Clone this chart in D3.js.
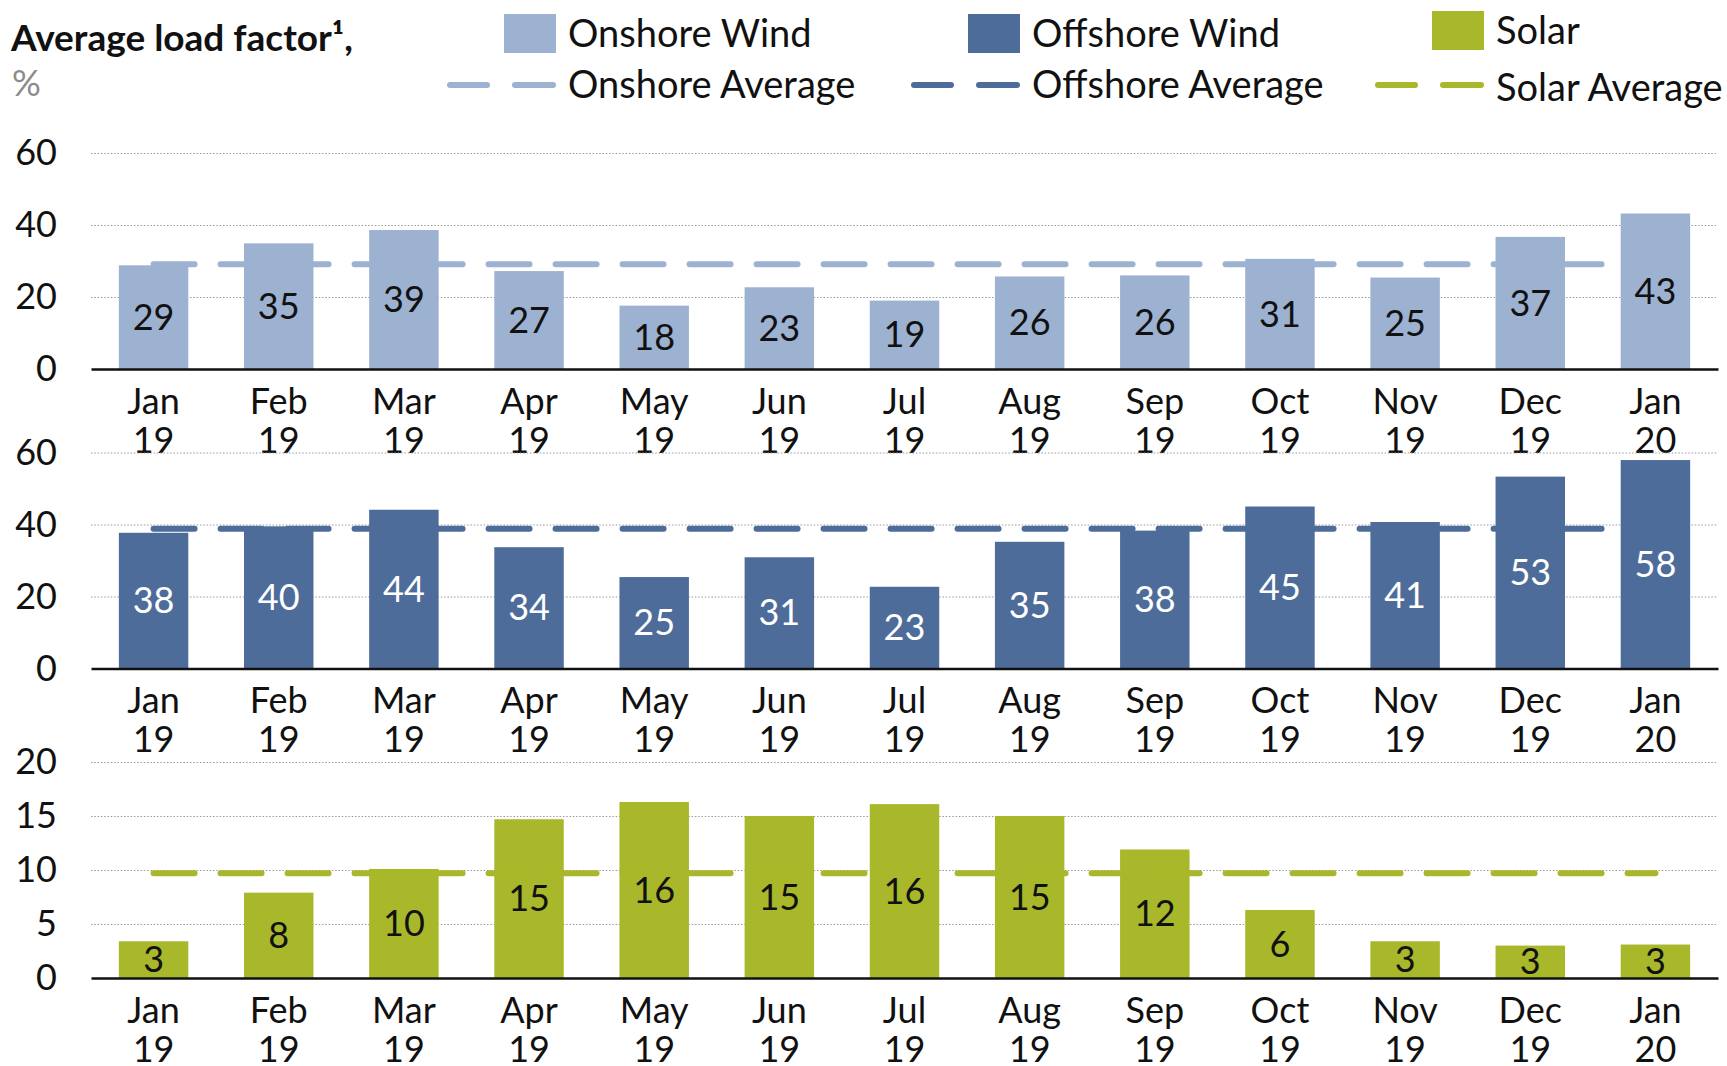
<!DOCTYPE html>
<html>
<head>
<meta charset="utf-8">
<script src="https://cdn.jsdelivr.net/npm/d3@7"></script>
<style>
  body { margin: 0; background: #fff; }
  svg { display: block; font-family: Lato, "Open Sans", sans-serif; }
</style>
</head>
<body>
<svg id="chart" width="1727" height="1066"></svg>
<script>
// data
const categories = ["Jan 19", "Feb 19", "Mar 19", "Apr 19", "May 19", "Jun 19", "Jul 19",
  "Aug 19", "Sep 19", "Oct 19", "Nov 19", "Dec 19", "Jan 20"];
const onshore = [28.8, 34.9, 38.6, 27.2, 17.6, 22.7, 19.0, 25.7, 26.0, 30.6, 25.4, 36.7, 43.2];
const offshore = [37.7, 39.5, 44.1, 33.7, 25.4, 30.9, 22.7, 35.2, 38.3, 45.0, 40.7, 53.3, 57.9];
const solar = [3.4, 7.9, 10.1, 14.7, 16.3, 15.0, 16.1, 15.0, 11.9, 6.3, 3.4, 3.0, 3.1];
const averages = [29.1, 38.8, 9.7];
const windTicks = [0, 20, 40, 60];
const solarTicks = [0, 5, 10, 15, 20];

const svg = d3.select('#chart');
const left = 91, right = 1718;
const font = 'Lato';

const x = d3.scaleBand()
  .domain(categories)
  .range([left, right])
  .paddingInner(0.445)
  .paddingOuter(0.2225);

const panels = [
  { values: onshore, avg: averages[0], ticks: windTicks, max: 60, top: 153, bottom: 369,
    color: '#9db1d1', labelColor: '#111' },
  { values: offshore, avg: averages[1], ticks: windTicks, max: 60, top: 452.5, bottom: 668.5,
    color: '#4e6c9a', labelColor: '#fff' },
  { values: solar, avg: averages[2], ticks: solarTicks, max: 20, top: 762, bottom: 978,
    color: '#a8b82a', labelColor: '#111' }
];

panels.forEach(function(p) {
  const y = d3.scaleLinear().domain([0, p.max]).range([p.bottom, p.top]);
  const g = svg.append('g');

  // dotted gridlines
  g.append('g')
    .attr('transform', `translate(${left},0)`)
    .call(d3.axisLeft(y).tickValues(p.ticks.filter(t => t > 0)).tickSize(-(right - left)).tickFormat(''))
    .call(s => s.select('.domain').remove())
    .call(s => s.selectAll('line').attr('stroke', '#9a9a9a').attr('stroke-width', 1.2).attr('stroke-dasharray', '1.5,1.8'));

  // y tick labels
  g.append('g')
    .attr('transform', 'translate(57,0)')
    .call(d3.axisLeft(y).tickValues(p.ticks).tickSize(0).tickPadding(0))
    .attr('font-family', font)
    .attr('font-size', 36)
    .call(s => s.select('.domain').remove())
    .call(s => s.selectAll('text').attr('fill', '#111'));

  // bars
  g.selectAll('rect.bar')
    .data(p.values)
    .join('rect')
    .attr('class', 'bar')
    .attr('x', (d, i) => x(categories[i]))
    .attr('width', x.bandwidth())
    .attr('y', d => y(d))
    .attr('height', d => y(0) - y(d))
    .attr('fill', p.color);

  // average dashed line
  g.append('line')
    .attr('x1', x(categories[0]) + x.bandwidth() / 2)
    .attr('x2', x(categories[categories.length - 1]) + x.bandwidth() / 2)
    .attr('y1', y(p.avg))
    .attr('y2', y(p.avg))
    .attr('stroke', p.color)
    .attr('stroke-width', 6)
    .attr('stroke-linecap', 'round')
    .attr('stroke-dasharray', '41,26');

  // value labels
  g.selectAll('text.val')
    .data(p.values)
    .join('text')
    .attr('class', 'val')
    .attr('x', (d, i) => x(categories[i]) + x.bandwidth() / 2)
    .attr('y', d => (y(d) + y(0)) / 2)
    .attr('dy', '0.35em')
    .attr('text-anchor', 'middle')
    .attr('font-family', font)
    .attr('font-size', 36)
    .attr('fill', p.labelColor)
    .text(d => Math.round(d));

  // x axis
  const xa = g.append('g')
    .attr('transform', `translate(0,${p.bottom})`)
    .call(d3.axisBottom(x).tickSize(0).tickFormat(''))
    .attr('font-family', font);
  xa.select('.domain').attr('stroke', '#111').attr('stroke-width', 2.5);
  xa.selectAll('.tick').each(function(d) {
    const parts = d.split(' ');
    const t = d3.select(this).append('text')
      .attr('text-anchor', 'middle')
      .attr('font-family', font)
      .attr('font-size', 36)
      .attr('fill', '#111');
    t.append('tspan').attr('x', 0).attr('y', 32).attr('dy', '0.35em').text(parts[0]);
    t.append('tspan').attr('x', 0).attr('y', 71).attr('dy', '0.35em').text(parts[1]);
  });
});

// title
svg.append('text')
  .attr('x', 11).attr('y', 38.5).attr('dy', '0.35em')
  .attr('font-family', font)
  .attr('font-size', 37).attr('font-weight', 'bold').attr('fill', '#111')
  .text('Average load factor¹,');
svg.append('text')
  .attr('x', 12).attr('y', 83).attr('dy', '0.35em')
  .attr('font-family', font)
  .attr('font-size', 36).attr('fill', '#8c8c8c')
  .text('%');

// legend
const legendItems = [
  { name: 'Onshore Wind', avgName: 'Onshore Average', color: panels[0].color, x: 504, sy: 14, ay: 85, ty: 85 },
  { name: 'Offshore Wind', avgName: 'Offshore Average', color: panels[1].color, x: 968, sy: 14, ay: 85, ty: 85 },
  { name: 'Solar', avgName: 'Solar Average', color: panels[2].color, x: 1432, sy: 11, ay: 85, ty: 88 }
];
const lg = svg.append('g').attr('font-family', font);
legendItems.forEach(function(l) {
  lg.append('rect').attr('x', l.x).attr('y', l.sy).attr('width', 52).attr('height', 39).attr('fill', l.color);
  lg.append('text').attr('x', l.x + 64).attr('y', l.sy + 19.5).attr('dy', '0.35em')
    .attr('font-size', 38).attr('fill', '#111').text(l.name);
  [[l.x - 57, l.x - 14], [l.x + 8, l.x + 52]].forEach(function(seg) {
    lg.append('line').attr('x1', seg[0] + 3).attr('x2', seg[1] - 3).attr('y1', l.ay).attr('y2', l.ay)
      .attr('stroke', l.color).attr('stroke-width', 6).attr('stroke-linecap', 'round');
  });
  lg.append('text').attr('x', l.x + 64).attr('y', l.ty).attr('dy', '0.35em')
    .attr('font-size', 38).attr('fill', '#111').text(l.avgName);
});
</script>
</body>
</html>
